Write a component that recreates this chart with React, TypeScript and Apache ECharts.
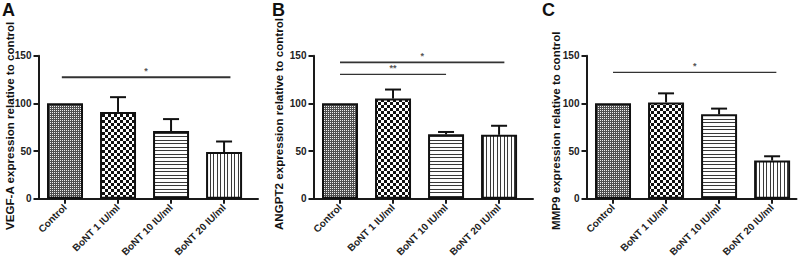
import React, { useEffect, useRef } from "react";
import * as echarts from "echarts";

const categories = ["Control", "BoNT 1 IU/ml", "BoNT 10 IU/ml", "BoNT 20 IU/ml"];
const yTicks = [0, 50, 100, 150];

const panelLetters = ["A", "B", "C"];
const yNames = [
  "VEGF-A expression relative to control",
  "ANGPT2 expression relative to control",
  "MMP9 expression relative to control",
];

// bar means
const meansA = [100, 91, 71, 49];
const meansB = [100, 105, 67.5, 67];
const meansC = [100, 101, 88.5, 40];
// upper error bar ends
const errA = [100, 106.5, 83.5, 60];
const errB = [100, 114.5, 70, 76.5];
const errC = [100, 110.5, 94.5, 44.5];

// significance brackets: [from category, to category, level]
const sigA = [[-0.06, 3.12, 127.5]];
const sigB = [[0, 3.1, 143], [0, 2.0, 130.5]];
const sigC = [[0, 3.08, 132.5]];
const sigLabelsA = ["*"];
const sigLabelsB = ["*", "**"];
const sigLabelsC = ["*"];
const sigWidthsA = [2];
const sigWidthsB = [1.6, 1.2];
const sigWidthsC = [1.2];

function makeTile(w: number, h: number, draw: (c: CanvasRenderingContext2D) => void) {
  const cv = document.createElement("canvas");
  cv.width = w;
  cv.height = h;
  const ctx = cv.getContext("2d")!;
  draw(ctx);
  return cv;
}

export default function App() {
  const ref = useRef<HTMLDivElement>(null);

  useEffect(() => {
    const chart = echarts.init(ref.current!, undefined, { renderer: "svg" });

    const tiles = [
      makeTile(2, 2, (c) => {
        c.fillStyle = "#505050";
        c.fillRect(0, 0, 2, 2);
        c.fillStyle = "#f0f0f0";
        c.fillRect(0, 0, 1, 1);
      }),
      makeTile(6, 6, (c) => {
        c.fillStyle = "#ffffff";
        c.fillRect(0, 0, 6, 6);
        c.fillStyle = "#111111";
        c.fillRect(0, 0, 3, 3);
        c.fillRect(3, 3, 3, 3);
      }),
      makeTile(4, 7, (c) => {
        c.fillStyle = "#ffffff";
        c.fillRect(0, 0, 4, 7);
        c.fillStyle = "#3a3a3a";
        c.fillRect(0, 0, 4, 1);
        c.fillRect(0, 3, 4, 1);
      }),
      makeTile(7, 4, (c) => {
        c.fillStyle = "#ffffff";
        c.fillRect(0, 0, 7, 4);
        c.fillStyle = "#3a3a3a";
        c.fillRect(0, 0, 1, 4);
        c.fillRect(3, 0, 1, 4);
      }),
    ];

    const font = "'Liberation Sans', Arial, Helvetica, sans-serif";
    const panels = [
      { left: 38.5, width: 219.5, max: 3.64, means: meansA, err: errA, sig: sigA, sigLabels: sigLabelsA, sigW: sigWidthsA, nameX: 9, letterX: 2 },
      { left: 313.5, width: 219.5, max: 3.64, means: meansB, err: errB, sig: sigB, sigLabels: sigLabelsB, sigW: sigWidthsB, nameX: 278.5, letterX: 272 },
      { left: 586.5, width: 210, max: 3.46, means: meansC, err: errC, sig: sigC, sigLabels: sigLabelsC, sigW: sigWidthsC, nameX: 555, letterX: 542 },
    ];

    const grids: any[] = [];
    const xAxes: any[] = [];
    const yAxes: any[] = [];
    const series: any[] = [];
    const graphics: any[] = [];

    panels.forEach((p, i) => {
      grids.push({ left: p.left, top: 55.7, width: p.width, height: 143, containLabel: false });
      xAxes.push({
        type: "value",
        gridIndex: i,
        min: -0.5,
        max: p.max,
        splitLine: { show: false },
        axisLine: { show: true, onZero: false, lineStyle: { color: "#1a1a1a", width: 2 } },
        axisTick: { show: true, customValues: [0, 1, 2, 3], length: 5, lineStyle: { color: "#1a1a1a", width: 2 } },
        axisLabel: {
          customValues: [0, 1, 2, 3],
          formatter: (v: number) => categories[Math.round(v)],
          rotate: 45,
          margin: 7,
          fontSize: 10,
          fontWeight: "bold",
          fontFamily: font,
          color: "#222",
        },
      });
      yAxes.push({
        type: "value",
        gridIndex: i,
        min: 0,
        max: 150,
        interval: 50,
        splitLine: { show: false },
        axisLine: { show: true, onZero: false, lineStyle: { color: "#1a1a1a", width: 2 } },
        axisTick: { show: true, length: 5, lineStyle: { color: "#1a1a1a", width: 2 } },
        axisLabel: {
          margin: 7,
          fontSize: 10,
          fontWeight: "bold",
          fontFamily: font,
          color: "#222",
          formatter: (v: number) => (yTicks.includes(v) ? String(v) : ""),
        },
      });
      series.push({
        type: "bar",
        xAxisIndex: i,
        yAxisIndex: i,
        barWidth: 36,
        data: p.means.map((m, k) => ({
          value: [k, m],
          itemStyle: {
            color: { image: tiles[k], repeat: "repeat" },
            borderColor: "#111",
            borderWidth: 2,
          },
        })),
        z: 2,
      });
      series.push({
        type: "custom",
        xAxisIndex: i,
        yAxisIndex: i,
        data: p.means.map((m, k) => [k, m, p.err[k]]),
        z: 3,
        renderItem: (params: any, api: any) => {
          const x = api.value(0);
          const v = api.value(1);
          const e = api.value(2);
          if (e <= v) return { type: "group", children: [] };
          const p1 = api.coord([x, v]);
          const p2 = api.coord([x, e]);
          const st = { stroke: "#111", lineWidth: 2 };
          return {
            type: "group",
            children: [
              { type: "line", shape: { x1: p1[0], y1: p1[1], x2: p2[0], y2: p2[1] }, style: st },
              { type: "line", shape: { x1: p2[0] - 8, y1: p2[1], x2: p2[0] + 8, y2: p2[1] }, style: st },
            ],
          };
        },
      });
      series.push({
        type: "custom",
        xAxisIndex: i,
        yAxisIndex: i,
        data: p.sig,
        z: 4,
        renderItem: (params: any, api: any) => {
          const a = api.coord([api.value(0), api.value(2)]);
          const b = api.coord([api.value(1), api.value(2)]);
          return {
            type: "group",
            children: [
              {
                type: "line",
                shape: { x1: a[0], y1: a[1], x2: b[0], y2: b[1] },
                style: { stroke: "#333", lineWidth: p.sigW[params.dataIndex] },
              },
              {
                type: "text",
                style: {
                  text: p.sigLabels[params.dataIndex],
                  x: (a[0] + b[0]) / 2,
                  y: a[1] - 2,
                  align: "center",
                  verticalAlign: "bottom",
                  textAlign: "center",
                  textVerticalAlign: "bottom",
                  font: `bold 9px ${font}`,
                  fill: "#555",
                },
              },
            ],
          };
        },
      });
      graphics.push({
        type: "text",
        x: p.letterX,
        y: 1,
        style: { text: panelLetters[i], font: `bold 18px ${font}`, fill: "#111", textAlign: "left", textVerticalAlign: "top", align: "left", verticalAlign: "top" },
      });
      graphics.push({
        type: "text",
        x: p.nameX,
        y: 230,
        rotation: Math.PI / 2,
        style: {
          text: yNames[i],
          font: `bold 11.6px ${font}`,
          fill: "#111",
          textAlign: "left",
          textVerticalAlign: "middle",
          align: "left",
          verticalAlign: "middle",
        },
      });
    });

    chart.setOption({
      animation: false,
      backgroundColor: "#ffffff",
      grid: grids,
      xAxis: xAxes,
      yAxis: yAxes,
      series,
      graphic: graphics,
    });

    return () => chart.dispose();
  }, []);

  return (
    <div
      ref={ref}
      style={{ position: "fixed", left: 0, top: 0, width: 800, height: 262, background: "#fff" }}
    />
  );
}
